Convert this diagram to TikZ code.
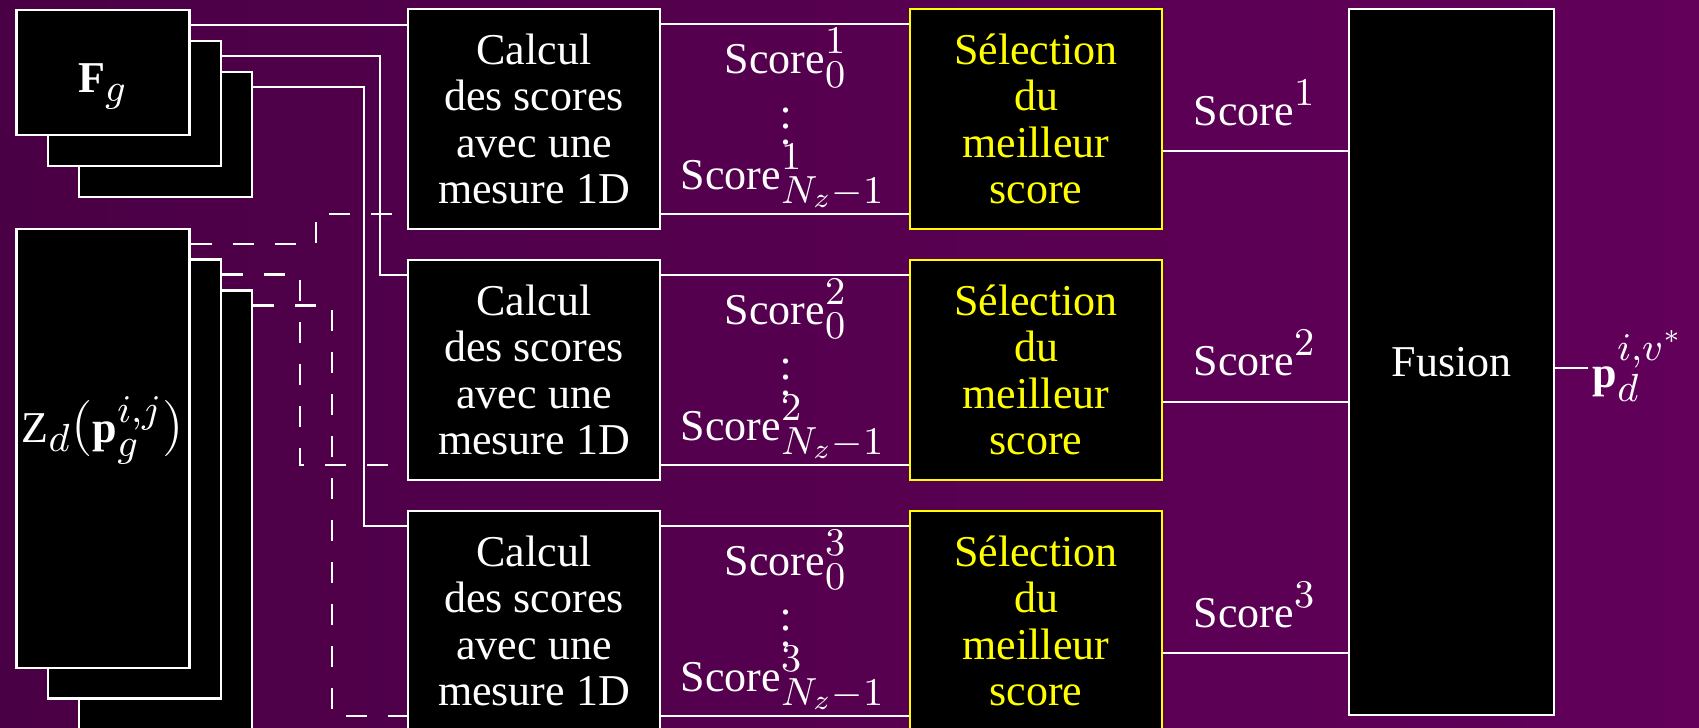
\RequirePackage{fix-cm}
\documentclass[tikz,border=0pt]{standalone}
\usepackage{fontspec}
\setmainfont{Liberation Serif}[Scale=0.786]
\usetikzlibrary{positioning}
\definecolor{bgleft}{HTML}{4A0045}
\definecolor{bgright}{HTML}{62005A}
\definecolor{selyellow}{HTML}{FFFF00}

\begin{document}
\begin{tikzpicture}[
  x=0.25pt, y=-0.25pt,
  font=\fontsize{14}{11.6}\selectfont,
  box/.style    = {draw=white, fill=black, text=white, line width=0.6pt, align=center,
                   inner sep=0pt, minimum width=63pt, minimum height=55pt},
  selbox/.style = {box, draw=selyellow, text=selyellow},
  stack/.style  = {box, minimum width=43.25pt, minimum height=31.25pt},
  tall/.style   = {box, minimum width=43.25pt, minimum height=109.75pt},
  link/.style   = {draw=white, line width=0.6pt},
  dlink/.style  = {link, dash pattern=on 5.25pt off 5.25pt},
  lbl/.style    = {text=white, inner sep=1pt},
]

% ---------- background ----------
\path[use as bounding box, left color=bgleft, right color=bgright] (0,0) rectangle (1699,727);

% ---------- inputs ----------
\node[stack] (fg3) at (165.5,134.5) {};
\node[stack] (fg2) at (134.5,103.5) {};
\node[stack] (fg1) at (103,72.5) {\raisebox{-3.5pt}[\height][\depth]{$\mathbf{F}_g$}};

\node[tall] (zd3) at (165.5,510) {};
\node[tall] (zd2) at (134.5,479) {};
\node[tall] (zd1) at (103,448.5) {\raisebox{4.5pt}[\height][\depth]{$\mathrm{Z}_d(\mathbf{p}_g^{i,j})$}};

% ---------- score computation ----------
\node[box] (calc1) at (534,119) {Calcul\\des scores\\avec une\\mesure 1D};
\node[box] (calc2) at (534,370) {Calcul\\des scores\\avec une\\mesure 1D};
\node[box] (calc3) at (534,621) {Calcul\\des scores\\avec une\\mesure 1D};

% ---------- selection ----------
\node[selbox] (sel1) at (1036,119) {Sélection\\du\\meilleur\\score};
\node[selbox] (sel2) at (1036,370) {Sélection\\du\\meilleur\\score};
\node[selbox] (sel3) at (1036,621) {Sélection\\du\\meilleur\\score};

\node[box, minimum width=51.25pt, minimum height=176.5pt] (fusion) at (1451.5,362) {Fusion};

% ---------- score labels ----------
\node[lbl] (sc10) at (786,58)  {Score$^1_0$};
\node[lbl] (dt1)  at (786,115) {$\vdots$};
\node[lbl] (sc1n) at (783,176) {Score$^1_{N_z-1}$};
\node[lbl] (sc20) at (786,309) {Score$^2_0$};
\node[lbl] (dt2)  at (786,366) {$\vdots$};
\node[lbl] (sc2n) at (783,427) {Score$^2_{N_z-1}$};
\node[lbl] (sc30) at (786,560) {Score$^3_0$};
\node[lbl] (dt3)  at (786,617) {$\vdots$};
\node[lbl] (sc3n) at (783,678) {Score$^3_{N_z-1}$};

\node[lbl] (best1) at (1255,103) {Score$^1$};
\node[lbl] (best2) at (1255,353) {Score$^2$};
\node[lbl] (best3) at (1255,605) {Score$^3$};

\node[lbl, anchor=west] (pout) at (1588,366) {$\mathbf{p}_d^{i,v^*}$};

% ---------- solid links ----------
\draw[link] ([yshift=-4pt]fg1.north east) -- ([yshift=-4pt]fg1.north east -| calc1.west);
\draw[link] ([yshift=-4pt]fg2.north east) -- ++(39.5pt,0) |- ([yshift=-4pt]calc2.north west);
\draw[link] ([yshift=-4pt]fg3.north east) -- ++(27.75pt,0) |- ([yshift=-4pt]calc3.north west);

\draw[link] ([yshift=-4pt]calc1.north east) -- ([yshift=-4pt]sel1.north west);
\draw[link] ([yshift=4pt]calc1.south east) -- ([yshift=4pt]sel1.south west);
\draw[link] ([yshift=-4pt]calc2.north east) -- ([yshift=-4pt]sel2.north west);
\draw[link] ([yshift=4pt]calc2.south east) -- ([yshift=4pt]sel2.south west);
\draw[link] ([yshift=-4pt]calc3.north east) -- ([yshift=-4pt]sel3.north west);
\draw[link] ([yshift=4pt]calc3.south east) -- ([yshift=4pt]sel3.south west);

\draw[link] ([yshift=-8pt]sel1.east) -- ([yshift=-8pt]sel1.east -| fusion.west);
\draw[link] ([yshift=-8pt]sel2.east) -- ([yshift=-8pt]sel2.east -| fusion.west);
\draw[link] ([yshift=-8pt]sel3.east) -- ([yshift=-8pt]sel3.east -| fusion.west);

\draw[link] (fusion.east |- 0,368) -- (pout.west |- 0,368);

% ---------- dashed links ----------
\draw[dlink] ([yshift=-4pt]zd1.north east) -- ++(31.25pt,0) |- ([yshift=4pt]calc1.south west);
\draw[dlink] ([yshift=-4pt]zd2.north east) -- ++(19.5pt,0) |- ([yshift=4pt]calc2.south west);
\draw[dlink] ([yshift=-4pt]zd3.north east) -- ++(19.75pt,0) |- ([yshift=4pt]calc3.south west);

\end{tikzpicture}
\end{document}
